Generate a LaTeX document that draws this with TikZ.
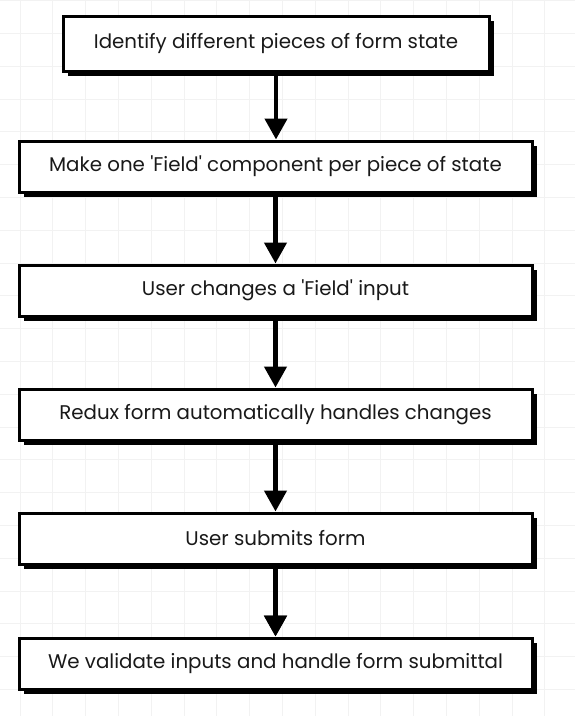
\documentclass[tikz,border=0pt]{standalone}
\usepackage{fontspec}
\setmainfont[Ligatures={NoCommon}]{Poppins}
\usetikzlibrary{arrows.meta, calc, shadows}
\usetikzlibrary{positioning}

\begin{document}
\begin{tikzpicture}[x=1pt, y=-1pt,
    stepbox/.style={draw, line width=3pt, fill=white, minimum width=513pt, minimum height=51pt,
        inner sep=0pt, text=black!90, font=\fontsize{19.8}{23}\selectfont,
        drop shadow={shadow xshift=5pt, shadow yshift=-5pt, fill=black, opacity=1}},
    flow/.style={line width=4.5pt, -{Triangle[width=22pt, length=21pt]}}]
    \useasboundingbox[fill=white] (0,0) rectangle (575,716);
    % faint background grid
    \foreach \gx in {20,52.8,...,575} \draw[black!5, line width=0.8pt] (\gx,0) -- (\gx,716);
    \foreach \gy in {0.5,33.3,...,716} \draw[black!5, line width=0.8pt] (0,\gy) -- (575,\gy);

    \node[stepbox, minimum width=426pt, minimum height=55pt] at (276,43.5) (pieces) {Identify different pieces of form state};
    \node[stepbox] at (275.5,166.5) (field) {Make one \textquotesingle Field\textquotesingle{} component per piece of state};
    \node[stepbox] at (275.5,290.5) (change) {User changes a \textquotesingle Field\textquotesingle{} input};
    \node[stepbox] at (275.5,414.5) (redux) {Redux form automatically handles changes};
    \node[stepbox] at (275.5,538.5) (submit) {User submits form};
    \node[stepbox] at (275.5,663.5) (validate) {We validate inputs and handle form submittal};

    \draw[flow] (pieces.south) -- (pieces.south |- field.north);
    \draw[flow] (field.south) -- (field.south |- change.north);
    \draw[flow] (change.south) -- (change.south |- redux.north);
    \draw[flow] (redux.south) -- (redux.south |- submit.north);
    \draw[flow] (submit.south) -- (submit.south |- validate.north);
    \draw[flow] (validate.north |- submit.south) -- (validate.north);
\end{tikzpicture}
\end{document}
